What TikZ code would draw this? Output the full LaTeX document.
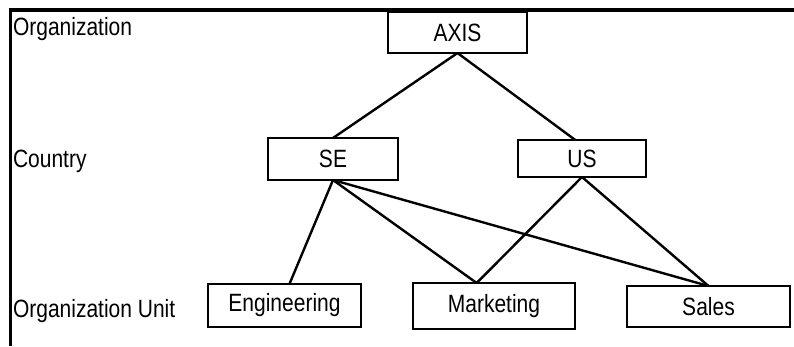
\documentclass[tikz,border=0pt]{standalone}
\usepackage{fontspec}
\setmainfont{Liberation Sans}[FakeStretch=0.84]

\begin{document}
\begin{tikzpicture}[x=1pt, y=-1pt, every node/.style={font=\fontsize{25}{29}\selectfont, inner sep=0pt, outer sep=0pt}, unit/.style={draw, line width=2.6pt}, tier/.style={anchor=base west}, link/.style={line width=2.4pt}]
        % Fix the page size
        \useasboundingbox (0,0) rectangle (794,346);

        % Draw the frame on the top and the left
        \draw[line width=3.8pt] (794,10) -- (10.5,10) -- (10.5,346);

        % Draw the level names
        \node[tier] (lorg) at (13,35) {Organization};
        \node[tier] (lcountry) at (13,167) {Country};
        \node[tier] (lunit) at (13,317) {Organization Unit};

        % Draw the boxes
        \node[unit, minimum width=139pt, minimum height=41pt] (axis) at (457.5,32.5) {AXIS};
        \node[unit, minimum width=130pt, minimum height=42pt] (se) at (333,159) {SE};
        \node[unit, minimum width=128pt, minimum height=37pt] (us) at (582,158.5) {US};
        \node[unit, minimum width=153pt, minimum height=43pt] (eng) at (284.5,305.5) {Engineering};
        \node[unit, minimum width=162pt, minimum height=46pt] (mkt) at (494,306) {Marketing};
        \node[unit, minimum width=163pt, minimum height=41pt] (sales) at (708.5,306.5) {Sales};

        % Draw the connectors
        \draw[link] (axis.south) -- (se.north);
        \draw[link] (axis.south) -- (us.110);
        \draw[link] (se.south) -- (eng.77);
        \draw[link] (se.south) -- (mkt.127);
        \draw[link] (se.south) -- (sales.north);
        \draw[link] (us.south) -- (mkt.127);
        \draw[link] (us.south) -- (sales.north);
      \end{tikzpicture}
\end{document}
